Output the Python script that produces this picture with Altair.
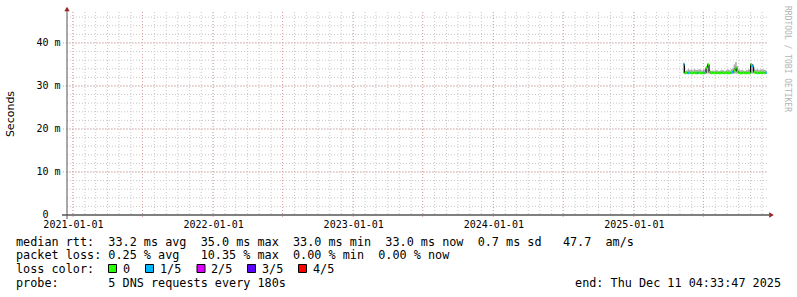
import altair as alt
import pandas as pd

W, H = 701, 203

# ---------------- data ----------------
year_ticks = ["2021-01-01", "2022-01-01", "2023-01-01", "2024-01-01", "2025-01-01"]
y_ticks = [0, 10, 20, 30, 40]

sample_start = "2025-05-09"
sample_end = "2025-12-11"
sample_step = "4D"

median_ms = [35.0,
             33.0, 33.1, 33.0, 33.1, 33.0, 33.0, 33.1, 33.0, 33.0, 33.1, 33.0, 33.0, 33.1, 33.0,
             34.3, 35.0, 33.2,
             33.0, 33.1, 33.0, 33.0, 33.1, 33.0, 33.0, 33.1, 33.0, 33.0, 33.1, 33.0, 33.0, 33.1, 33.2,
             33.6, 34.2, 33.4,
             33.1, 33.0, 33.0, 33.1, 33.0, 33.0, 33.1, 33.0,
             35.0, 34.6, 33.2,
             33.1, 33.0, 33.0, 33.1, 33.0, 33.1, 33.0, 33.1]
smoke_hi_ms = [35.4,
               33.5, 33.6, 33.9, 33.7, 33.8, 33.6, 33.9, 33.8, 33.7, 33.9, 33.8, 33.6, 33.7, 33.9,
               34.6, 35.3, 33.8,
               33.5, 33.6, 33.5, 33.7, 33.6, 33.5, 33.6, 33.7, 33.6, 33.5, 33.7, 33.8, 33.6, 33.9, 34.1,
               35.0, 35.6, 34.6,
               33.8, 33.6, 33.7, 33.6, 33.5, 33.7, 33.8, 33.9,
               35.3, 35.1, 33.9,
               33.8, 33.9, 33.7, 33.8, 33.9, 33.8, 33.7, 33.6]
smoke_lo_ms = [32.9] * 55
loss_count = [1,
              0, 0, 1, 0, 0, 0, 0, 0, 1, 0, 0, 0, 1, 0,
              0, 0, 0,
              0, 0, 0, 0, 0, 0, 0, 0, 0, 0, 0, 0, 0, 0, 1,
              0, 0, 0,
              0, 0, 0, 0, 0, 0, 0, 0,
              0, 1, 0,
              0, 0, 0, 0, 0, 0, 0, 1]

loss_labels = ["0", "1/5", "2/5", "3/5", "4/5"]
loss_colors = ["#26ff00", "#00b8ff", "#dd00ff", "#5e00ff", "#ff0000"]

line1 = "median rtt:  33.2 ms avg  35.0 ms max  33.0 ms min  33.0 ms now  0.7 ms sd   47.7  am/s"
line2 = "packet loss: 0.25 % avg   10.35 % max  0.00 % min  0.00 % now"
line3 = "loss color:"
line4 = "probe:       5 DNS requests every 180s"
end_text = "end: Thu Dec 11 04:33:47 2025"
y_title = "Seconds"
watermark = "RRDTOOL / TOBI OETIKER"
zero_label = "0"

# ---------------- tables ----------------
dates = pd.date_range(sample_start, sample_end, freq=sample_step)
df = pd.DataFrame({"date": dates, "median": median_ms, "hi": smoke_hi_ms,
                   "lo": smoke_lo_ms, "loss": loss_count})
df["next"] = df["date"].shift(-1).fillna(df["date"].iloc[-1] + pd.Timedelta(days=2))

months = pd.date_range("2021-01-01", "2025-12-01", freq="MS")
minor_x = pd.DataFrame({"t": months})
major_x = pd.DataFrame({"t": [m for m in months if m.month in (1, 7)]})
minor_y = pd.DataFrame({"v": list(range(2, 47, 2))})
major_y = pd.DataFrame({"v": [10, 20, 30, 40]})
one = pd.DataFrame({"a": [0]})

xdom = [alt.DateTime(year=2020, month=12, date=16, hours=10),
        alt.DateTime(year=2025, month=12, date=16, hours=12)]
xscale = alt.Scale(domain=xdom)
yscale = alt.Scale(domain=[0, 47.2], nice=False, zero=False)

FONT_MONO = "DejaVu Sans Mono"
NB = "\u00a0"

x_axis = alt.Axis(values=[alt.DateTime(year=int(s[:4]), month=1, date=1) for s in year_ticks],
                  format="%Y-%m-%d", labelFont=FONT_MONO, labelFontSize=10, labelColor="#000",
                  labelPadding=4, ticks=False, domain=False, grid=False, title=None,
                  labelFlush=False, labelOverlap=False)
y_axis = alt.Axis(values=y_ticks,
                  labelExpr="datum.value == 0 ? '' : datum.value + ' m'",
                  labelFont=FONT_MONO, labelFontSize=10, labelColor="#000",
                  labelPadding=7, ticks=False, domain=False, grid=False, title=None)

grid_minor_v = alt.Chart(minor_x).mark_rule(color="#c8c8c8", strokeDash=[1, 2], strokeWidth=1).encode(
    x=alt.X("t:T", scale=xscale, axis=x_axis), y=alt.value(0), y2=alt.value(H))
grid_major_v = alt.Chart(major_x).mark_rule(color="#e0a0a0", strokeDash=[1, 2], strokeWidth=1).encode(
    x=alt.X("t:T", scale=xscale), y=alt.value(0), y2=alt.value(H + 3))
grid_minor_h = alt.Chart(minor_y).mark_rule(color="#c8c8c8", strokeDash=[1, 2], strokeWidth=1).encode(
    y=alt.Y("v:Q", scale=yscale, axis=y_axis), x=alt.value(0), x2=alt.value(W))
grid_major_h = alt.Chart(major_y).mark_rule(color="#e0a0a0", strokeDash=[1, 2], strokeWidth=1).encode(
    y=alt.Y("v:Q", scale=yscale), x=alt.value(-4), x2=alt.value(W))

smoke = alt.Chart(df).mark_rect(color="#a8a8a8").encode(
    x=alt.X("date:T", scale=xscale), x2="next:T",
    y=alt.Y("lo:Q", scale=yscale), y2="hi:Q")
med_step = alt.Chart(df).mark_line(color="#000000", strokeWidth=1, interpolate="step-after").encode(
    x=alt.X("date:T", scale=xscale), y=alt.Y("median:Q", scale=yscale))
med_seg = alt.Chart(df).mark_rule(strokeWidth=2.5).encode(
    x=alt.X("date:T", scale=xscale), x2="next:T",
    y=alt.Y("median:Q", scale=yscale),
    color=alt.Color("loss:O", scale=alt.Scale(domain=[0, 1, 2, 3, 4], range=loss_colors), legend=None))

# axes lines and arrows
x_line = alt.Chart(one).mark_rule(color="#000000", strokeWidth=1).encode(
    x=alt.value(-5), x2=alt.value(W + 1), y=alt.value(H))
y_line = alt.Chart(one).mark_rule(color="#555555", strokeWidth=1).encode(
    x=alt.value(0), y=alt.value(-2), y2=alt.value(H + 4))
arrow_up = alt.Chart(one).mark_point(shape="triangle-up", filled=True, color="#992222", size=28, opacity=1).encode(
    x=alt.value(0), y=alt.value(-3))
arrow_right = alt.Chart(one).mark_point(shape="triangle-right", filled=True, color="#992222", size=28, opacity=1).encode(
    x=alt.value(W + 3.5), y=alt.value(H))


def txt(s, x, y, size=11.8, font=FONT_MONO, align="left", color="#000", angle=0):
    return alt.Chart(one).mark_text(text=s.replace(" ", NB), font=font, fontSize=size, align=align,
                                    baseline="middle", color=color, angle=angle).encode(
        x=alt.value(x), y=alt.value(y))


ox, oy = 67, 12  # plot origin in page pixels
texts = [
    txt(line1, 16 - ox, 241.5 - oy),
    txt(line2, 16 - ox, 255.2 - oy),
    txt(line3, 16 - ox, 269 - oy),
    txt(line4, 16 - ox, 282.7 - oy),
    txt(end_text, 781 - ox, 282.7 - oy, align="right"),
    txt(y_title, 11 - ox, 114 - oy, size=11, font="DejaVu Sans", align="center", angle=270),
    txt(watermark, 787 - ox, 59 - oy, size=8, align="center", color="#b4b4b4", angle=90),
    txt(zero_label, 45.5 - ox, 214.5 - oy, size=10, align="center"),
]

sq_x = [108.5, 145.5, 197, 247.5, 298.5]
lab_x = [123, 160, 211, 262, 313]
legend = []
for i, (lab, col) in enumerate(zip(loss_labels, loss_colors)):
    legend.append(alt.Chart(one).mark_rect(fill=col, stroke="#000", strokeWidth=1).encode(
        x=alt.value(sq_x[i] - ox), x2=alt.value(sq_x[i] + 8 - ox),
        y=alt.value(264.5 - oy), y2=alt.value(272.5 - oy)))
    legend.append(txt(lab, lab_x[i] - ox, 269 - oy))

chart = alt.layer(grid_minor_v, grid_major_v, grid_minor_h, grid_major_h,
                  smoke, med_step, med_seg,
                  x_line, y_line, arrow_up, arrow_right,
                  *texts, *legend).properties(
    width=W, height=H,
    padding={"left": ox, "top": oy, "right": 797 - ox - W, "bottom": 297 - oy - H},
    autosize=alt.AutoSizeParams(type="none"),
    background="#ffffff",
).configure_view(stroke=None)

chart.save("out.html", embed_options={"renderer": "svg", "actions": False})
